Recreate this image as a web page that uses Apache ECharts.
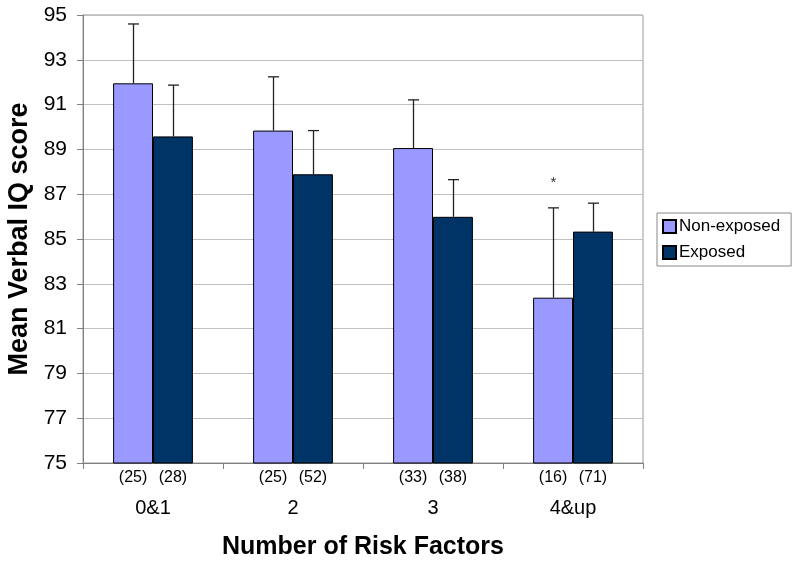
<!DOCTYPE html>
<html>
<head>
<meta charset="utf-8">
<script src="https://cdn.jsdelivr.net/npm/echarts@6/dist/echarts.min.js"></script>
<style>html,body{margin:0;padding:0;background:#fff}#c{width:800px;height:564px}</style>
</head>
<body>
<div id="c"></div>
<script>
const categories = ['0&1', '2', '3', '4&up'];
const nonExposed = [91.95, 89.84, 89.06, 82.38];
const nonExposedErrTop = [94.6, 92.24, 91.21, 86.39];
const exposed = [89.58, 87.89, 85.99, 85.33];
const exposedErrTop = [91.87, 89.84, 87.65, 86.6];
const nonExposedN = ['(25)', '(25)', '(33)', '(16)'];
const exposedN = ['(28)', '(52)', '(38)', '(71)'];
const nonExposedMark = ['', '', '', '*'];
const yTicks = [75, 77, 79, 81, 83, 85, 87, 89, 91, 93, 95];

const chart = echarts.init(document.getElementById('c'));
const GAP = 0.43;
const FONT = 'Liberation Sans, Arial, sans-serif';

function errSeries(vals, tops, side, marks) {
  return {
    type: 'custom',
    z: 5,
    silent: true,
    data: vals.map((v, i) => [i, v, tops[i]]),
    renderItem: function (params, api) {
      const band = api.size([1, 0])[0];
      const bw = band * (1 - GAP) / 2;
      const c0 = api.coord([api.value(0), api.value(1)]);
      const c1 = api.coord([api.value(0), api.value(2)]);
      const x = Math.round(c0[0] + side * bw / 2) + 0.5;
      const cap = 5.5;
      const children = [
        {type: 'line', shape: {x1: x, y1: c0[1], x2: x, y2: c1[1]}, style: {stroke: '#222', lineWidth: 1.3}},
        {type: 'line', shape: {x1: x - cap, y1: c1[1], x2: x + cap, y2: c1[1]}, style: {stroke: '#222', lineWidth: 1.3}}
      ];
      const m = marks ? marks[params.dataIndex] : '';
      if (m) {
        children.push({type: 'text', style: {text: m, x: x, y: c1[1] - 25, fill: '#333', font: '15px ' + FONT, align: 'center', verticalAlign: 'middle'}});
      }
      return {type: 'group', children: children};
    }
  };
}

chart.setOption({
  animation: false,
  textStyle: {fontFamily: FONT},
  grid: {left: 83, right: 157, top: 15, bottom: 101, show: true, borderColor: '#999', borderWidth: 1,
    containLabel: false, outerBoundsMode: 'none'},
  legend: {
    orient: 'vertical', left: 657, top: 213,
    data: ['Non-exposed', 'Exposed'],
    itemWidth: 13, itemHeight: 13, itemGap: 9,
    borderColor: '#888', borderWidth: 1, padding: [5, 11, 5, 5],
    textStyle: {fontSize: 17, color: '#000', padding: [0, 0, 0, -2]},
    icon: 'rect'
  },
  xAxis: {
    type: 'category', data: categories,
    axisLine: {lineStyle: {color: '#808080'}},
    axisTick: {show: true, lineStyle: {color: '#808080'}, length: 6},
    axisLabel: {fontSize: 20, color: '#000', margin: 35},
    name: 'Number of Risk Factors', nameLocation: 'middle', nameGap: 72,
    nameTextStyle: {fontSize: 25, fontWeight: 'bold', color: '#000'}
  },
  yAxis: {
    type: 'value', min: yTicks[0], max: yTicks[yTicks.length - 1], interval: 2,
    axisLine: {show: true, lineStyle: {color: '#808080'}},
    axisTick: {show: true, lineStyle: {color: '#808080'}, length: 6},
    axisLabel: {fontSize: 21, color: '#000', margin: 16},
    splitLine: {lineStyle: {color: '#c0c0c0'}},
    name: 'Mean Verbal IQ score', nameLocation: 'middle', nameGap: 47,
    nameTextStyle: {fontSize: 27, fontWeight: 'bold', color: '#000'}
  },
  series: [
    {
      name: 'Non-exposed', type: 'bar', data: nonExposed,
      barGap: '0%', barCategoryGap: (GAP * 100) + '%',
      itemStyle: {color: '#9999FF', borderColor: '#000', borderWidth: 1},
      label: {show: true, position: 'bottom', distance: 6, fontSize: 16, color: '#000',
        formatter: p => nonExposedN[p.dataIndex]}
    },
    {
      name: 'Exposed', type: 'bar', data: exposed,
      itemStyle: {color: '#003366', borderColor: '#000', borderWidth: 1},
      label: {show: true, position: 'bottom', distance: 6, fontSize: 16, color: '#000',
        formatter: p => exposedN[p.dataIndex]}
    },
    errSeries(nonExposed, nonExposedErrTop, -1, nonExposedMark),
    errSeries(exposed, exposedErrTop, 1, null)
  ]
});
</script>
</body>
</html>
